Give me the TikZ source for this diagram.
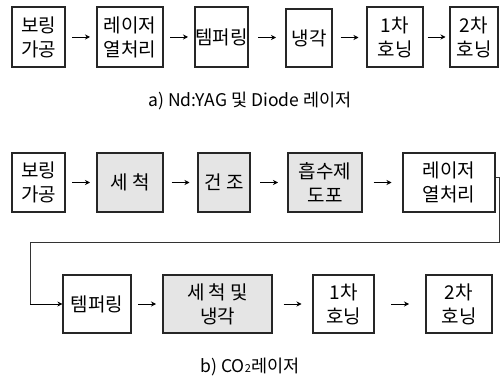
\documentclass[tikz,border=0pt]{standalone}
\usepackage{fontspec}
\setmainfont{Noto Sans CJK KR}
\usetikzlibrary{arrows.meta,calc}
\tikzset{
  box/.style={draw=black!85, line width=1.1pt, align=center, inner sep=0pt,
    font=\fontsize{19}{24}\selectfont},
  shadebox/.style={box, fill=black!10},
  arr/.style={line width=0.9pt, -{Stealth[length=5pt,width=5pt]}},
  conn/.style={line width=1pt, draw=black!80},
  captext/.style={font=\fontsize{17.5}{20}\selectfont}
}
\newcommand{\flowarrow}[2]{\draw[arr] ($(#1.east)!.5!(#2.west)+(-9,0)$) -- ++(18,0);}
\begin{document}
\begin{tikzpicture}[x=1pt,y=-1pt]
\useasboundingbox (0,0) rectangle (500,379);
% top row
\node[box, minimum width=53, minimum height=60] (a1) at (38.5,37) {보링\\가공};
\node[box, minimum width=66, minimum height=60] (a2) at (130,37) {레이저\\열처리};
\node[box, minimum width=53, minimum height=60] (a3) at (221.5,37) {템퍼링};
\node[box, minimum width=46, minimum height=58] (a4) at (309,38) {냉각};
\node[box, minimum width=56, minimum height=60] (a5) at (395,37) {1차\\호닝};
\node[box, minimum width=48, minimum height=60] (a6) at (474,37) {2차\\호닝};
\flowarrow{a1}{a2}
\flowarrow{a2}{a3}
\flowarrow{a3}{a4}
\flowarrow{a4}{a5}
\flowarrow{a5}{a6}
\node[captext] (capa) at (250,101) {a) Nd:YAG 및 Diode 레이저};
% second row
\node[box, minimum width=53, minimum height=59] (b1) at (38.5,182.5) {보링\\가공};
\node[shadebox, minimum width=66, minimum height=59] (b2) at (130,182.5) {세 척};
\node[shadebox, minimum width=52, minimum height=59] (b3) at (224,182.5) {건 조};
\node[shadebox, minimum width=74, minimum height=59] (b4) at (325,182.5) {흡수제\\도포};
\node[box, minimum width=92, minimum height=59] (b5) at (449,182.5) {레이저\\열처리};
\flowarrow{b1}{b2}
\flowarrow{b2}{b3}
\flowarrow{b3}{b4}
\flowarrow{b4}{b5}
% third row
\node[box, minimum width=68, minimum height=58] (c1) at (97,304) {템퍼링};
\node[shadebox, minimum width=109, minimum height=58] (c2) at (217.5,304) {세 척 및\\냉각};
\node[box, minimum width=61, minimum height=58] (c3) at (343.5,304) {1차\\호닝};
\node[box, minimum width=66, minimum height=58] (c4) at (459,304) {2차\\호닝};
\coordinate (r1) at (499,178);
\coordinate (r2) at (499,242);
\coordinate (l1) at (30,242);
\coordinate (l2) at (30,304);
\draw[conn] (b5.east |- r1) -- (r1) -- (r2) -- (l1) -- (l2);
\draw[arr] (l2) -- (c1.west);
\flowarrow{c1}{c2}
\flowarrow{c2}{c3}
\flowarrow{c3}{c4}
\node[captext] (capb) at (250,367) {b) CO{\fontsize{11}{12}\selectfont 2}레이저};
\end{tikzpicture}
\end{document}
